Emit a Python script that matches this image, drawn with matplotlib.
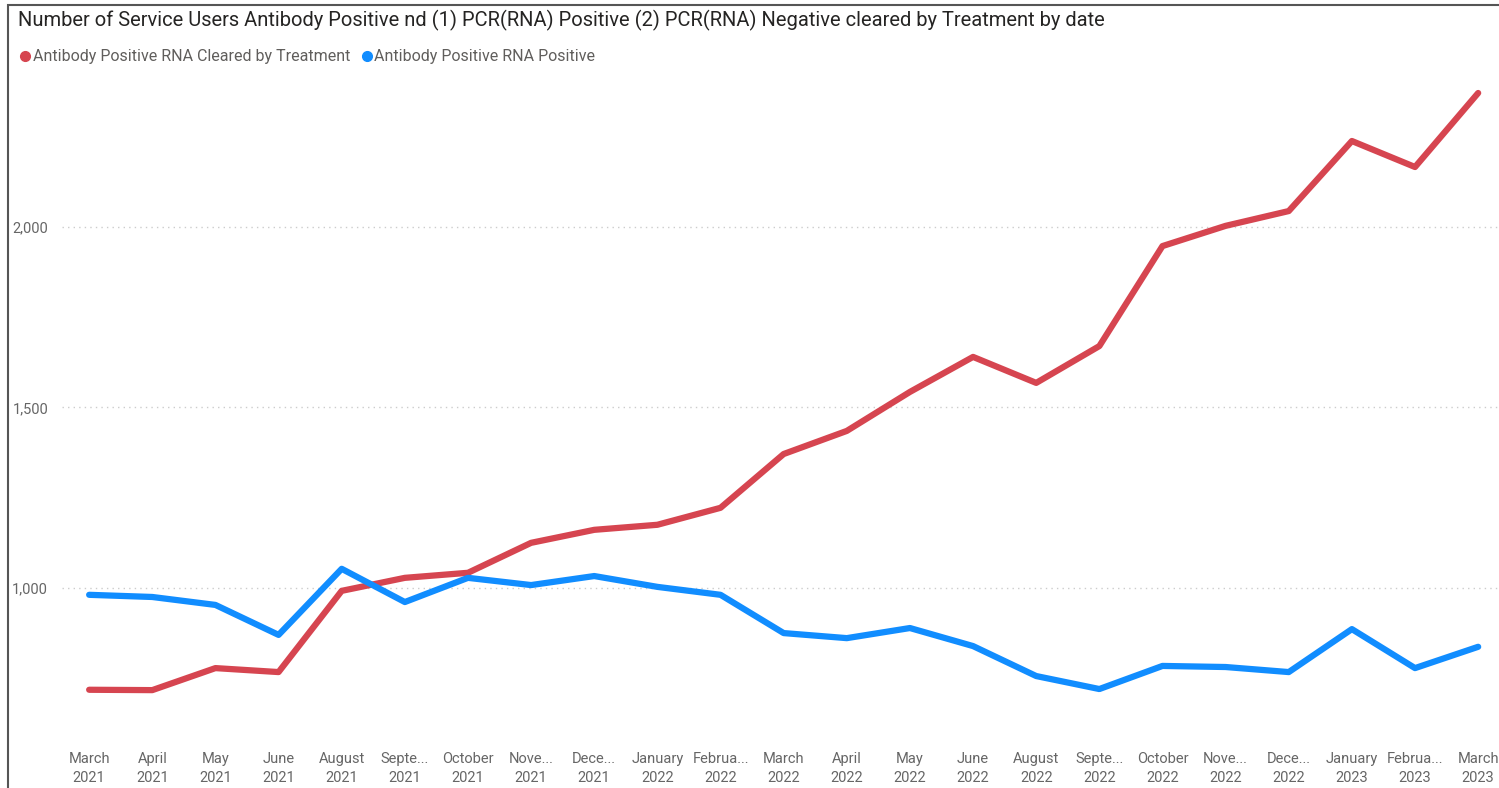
import matplotlib.pyplot as plt
from matplotlib.lines import Line2D
from matplotlib.patches import Rectangle

# category labels (month / year)
months = ['March', 'April', 'May', 'June', 'August', 'Septe...', 'October',
          'Nove...', 'Dece...', 'January', 'Februa...', 'March', 'April',
          'May', 'June', 'August', 'Septe...', 'October', 'Nove...',
          'Dece...', 'January', 'Februa...', 'March']
years = ['2021'] * 9 + ['2022'] * 11 + ['2023'] * 3

# series values
cleared = [718, 717, 778, 767, 992, 1028, 1042, 1125, 1161, 1175, 1222,
           1371, 1435, 1543, 1640, 1568, 1670, 1947, 2003, 2044, 2238,
           2166, 2371]
positive = [981, 975, 953, 870, 1053, 961, 1028, 1008, 1033, 1003, 981,
            875, 861, 889, 839, 756, 720, 784, 781, 767, 886, 778, 837]
series_names = ['Antibody Positive RNA Cleared by Treatment',
                'Antibody Positive RNA Positive']

red = '#D64550'
blue = '#118DFF'

W, H = 1499, 788
fig = plt.figure(figsize=(W / 100, H / 100), dpi=100)
plt.rcParams['font.family'] = ['Roboto', 'DejaVu Sans']

# frame of the screenshot
fig.add_artist(Rectangle((8 / W, -0.1), 1.2, (H - 5) / H + 0.1,
                         transform=fig.transFigure, fill=False,
                         edgecolor='#555555', linewidth=1.5))

ax = fig.add_axes([62 / W, (H - 745) / H, (W - 62) / W, 665 / H])
x = list(range(len(months)))
ax.plot(x, cleared, color=red, linewidth=4.5, solid_capstyle='round',
        solid_joinstyle='round', zorder=3)
ax.plot(x, positive, color=blue, linewidth=4.5, solid_capstyle='round',
        solid_joinstyle='round', zorder=3)

ax.set_xlim(-0.43, 22.33)
ax.set_ylim(565, 2407)
ax.set_yticks([1000, 1500, 2000])
ax.set_yticklabels(['1,000', '1,500', '2,000'])
ax.set_xticks(x)
ax.set_xticklabels([m + '\n' + y for m, y in zip(months, years)])
ax.tick_params(axis='both', length=0, colors='#666666', labelsize=10.5)
ax.tick_params(axis='x', pad=5)
ax.tick_params(axis='y', pad=10)
for lab in ax.get_xticklabels():
    lab.set_linespacing(1.45)
for s in ax.spines.values():
    s.set_visible(False)
ax.grid(axis='y', color='#cccccc', linestyle=(0, (1, 3)), linewidth=1)
ax.set_axisbelow(True)

fig.text(18 / W, 1 - 20 / H, 'Number of Service Users Antibody Positive nd (1) PCR(RNA) '
         'Positive (2) PCR(RNA) Negative cleared by Treatment by date',
         fontsize=14.5, color='#252423', va='center', ha='left')

# legend drawn by hand so the dots sit tight against the text
leg_y = 1 - 56 / H
for dot_x, text_x, col, name in [(25, 33, red, series_names[0]),
                                 (367, 374, blue, series_names[1])]:
    fig.add_artist(Line2D([dot_x / W], [leg_y], transform=fig.transFigure,
                          marker='o', linestyle='', color=col, markersize=7))
    fig.text(text_x / W, leg_y, name, fontsize=11.5, color='#605E5C',
             va='center', ha='left')

fig.savefig('out.png', dpi=100)
